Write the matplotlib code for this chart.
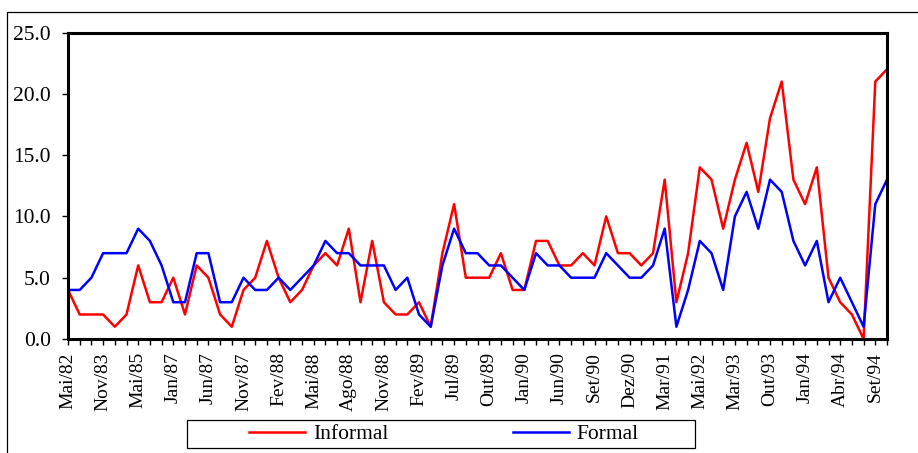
import matplotlib
matplotlib.use('Agg')
import matplotlib.pyplot as plt
from matplotlib.patches import Rectangle

plt.rcParams['font.family'] = ['Liberation Serif', 'DejaVu Serif']

# == Series (one point per period) == #
informal = [4, 2, 2, 2, 1, 2, 6, 3, 3, 5,
            2, 6, 5, 2, 1, 4, 5, 8, 5, 3,
            4, 6, 7, 6, 9, 3, 8, 3, 2, 2,
            3, 1, 7, 11, 5, 5, 5, 7, 4, 4,
            8, 8, 6, 6, 7, 6, 10, 7, 7, 6,
            7, 13, 3, 7, 14, 13, 9, 13, 16, 12,
            18, 21, 13, 11, 14, 5, 3, 2, 0, 21,
            22]
formal = [4, 4, 5, 7, 7, 7, 9, 8, 6, 3,
          3, 7, 7, 3, 3, 5, 4, 4, 5, 4,
          5, 6, 8, 7, 7, 6, 6, 6, 4, 5,
          2, 1, 6, 9, 7, 7, 6, 6, 5, 4,
          7, 6, 6, 5, 5, 5, 7, 6, 5, 5,
          6, 9, 1, 4, 8, 7, 4, 10, 12, 9,
          13, 12, 8, 6, 8, 3, 5, 3, 1, 11,
          13]

# labels shown every third period
date_labels = ['Mai/82', 'Nov/83', 'Mai/85', 'Jan/87', 'Jun/87', 'Nov/87',
               'Fev/88', 'Mai/88', 'Ago/88', 'Nov/88', 'Fev/89', 'Jul/89',
               'Out/89', 'Jan/90', 'Jun/90', 'Set/90', 'Dez/90', 'Mar/91',
               'Mai/92', 'Mar/93', 'Out/93', 'Jan/94', 'Abr/94', 'Set/94']
y_ticks = [0, 5, 10, 15, 20, 25]

W, H = 918, 453
fig = plt.figure(figsize=(W / 100, H / 100), dpi=100)
ax = fig.add_axes([68 / W, 1 - 339 / H, (887 - 68) / W, (339 - 32.5) / H])

x = list(range(len(informal)))
l1, = ax.plot(x, informal, color='#ff0000', lw=1.8, label='Informal')
l2, = ax.plot(x, formal, color='#0000ff', lw=1.8, label='Formal')

ax.set_xlim(0, len(informal) - 1)
ax.set_ylim(0, 25)

labels = [''] * len(x)
for k, lab in enumerate(date_labels):
    labels[3 * k] = lab
ax.set_xticks(x)
ax.set_xticklabels(labels, rotation=90, fontsize=14)
ax.set_yticks(y_ticks)
ax.set_yticklabels(['%.1f' % v for v in y_ticks], fontsize=15.5)
ax.tick_params(axis='x', direction='out', length=4.5, width=1, pad=5)
ax.tick_params(axis='y', direction='out', length=4.5, width=1, pad=8)

for s in ax.spines.values():
    s.set_linewidth(2.2)
    s.set_color('black')

# == Legend box under the axes == #
fig.add_artist(Rectangle((187 / W, 1 - 448 / H), 508 / W, 28 / H,
                         transform=fig.transFigure, fill=False,
                         edgecolor='black', lw=0.9))
fig.legend(handles=[l1, l2], ncol=2, loc='center',
           bbox_to_anchor=(444 / W, 1 - 434 / H), frameon=False,
           fontsize=15.5, handlelength=2.6, handletextpad=0.35,
           columnspacing=5.8, borderpad=0)

# outer chart border
fig.add_artist(Rectangle((7 / W, -0.1), 1.2, 1.1 - 12 / H,
                         transform=fig.transFigure, fill=False,
                         edgecolor='black', lw=0.9))

fig.savefig('out.png', dpi=100)
